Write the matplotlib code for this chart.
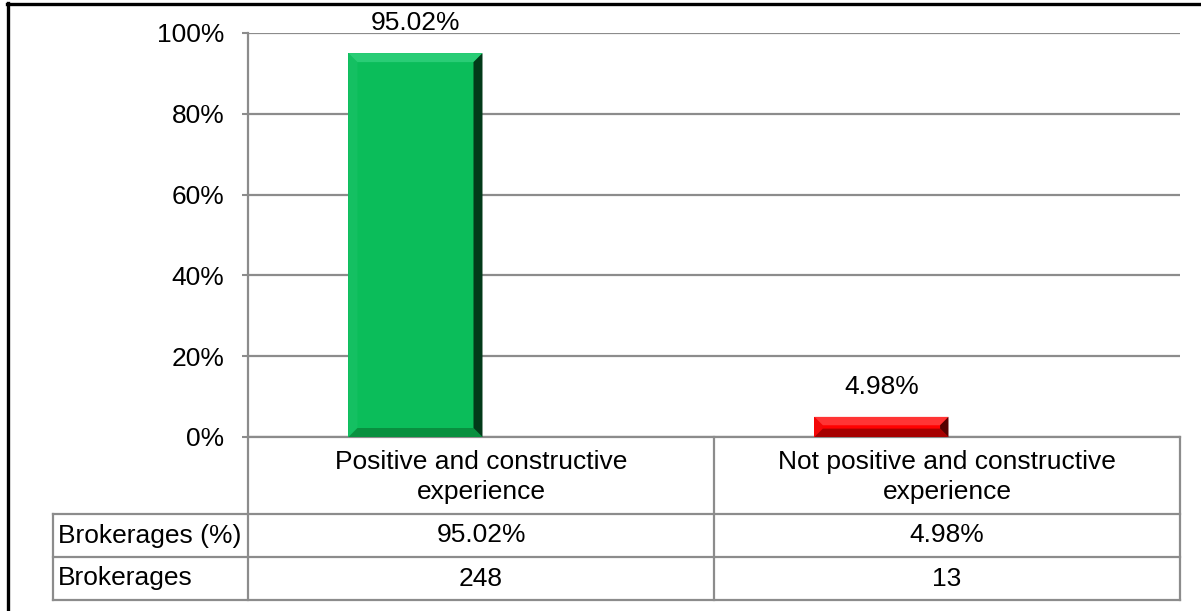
import matplotlib
matplotlib.use("Agg")
import matplotlib.pyplot as plt
from matplotlib.patches import Polygon
from matplotlib.lines import Line2D
from matplotlib.transforms import blended_transform_factory

# ---- data ----
categories = ["Positive and constructive\nexperience",
              "Not positive and constructive\nexperience"]
shares = [95.02, 4.98]          # percent of brokerages
counts = [248, 13]              # number of brokerages
row_labels = ["Brokerages (%)", "Brokerages"]
yticks = [0, 20, 40, 60, 80, 100]

plt.rcParams['font.family'] = ['Liberation Sans', 'DejaVu Sans']
FS = 19.0
GRID = "#8c8c8c"

W, H = 1201, 611
fig = plt.figure(figsize=(W / 100, H / 100), dpi=100)
fig.patch.set_facecolor("white")

# plot area in pixel terms
PX0, PX1, PY0, PY1 = 248, 1180, 33, 437
ax = fig.add_axes([PX0 / W, 1 - PY1 / H, (PX1 - PX0) / W, (PY1 - PY0) / H])
ax.set_xlim(-0.5, len(categories) - 0.5)
ax.set_ylim(0, 100)

# bars (shifted left within each category, as with an empty second series)
offset, width = -0.1406, 0.2876
styles = [
    dict(face="#0bbd5a", top="#2acd76", left="#14c062", right="#023a19", bottom="#08903f"),
    dict(face="#ff0000", top="#ff3434", left="#f20808", right="#560000", bottom="#a60000"),
]
xs = [i + offset for i in range(len(shares))]
bars = ax.bar(xs, shares, width=width, color=[s["face"] for s in styles],
              zorder=3, linewidth=0)

# bevelled edges on each bar
px_x = (ax.get_xlim()[1] - ax.get_xlim()[0]) / (PX1 - PX0)
px_y = (ax.get_ylim()[1] - ax.get_ylim()[0]) / (PY1 - PY0)
for bar, st in zip(bars, styles):
    x0, y0 = bar.get_x(), bar.get_y()
    x1, y1 = x0 + bar.get_width(), y0 + bar.get_height()
    hpx = bar.get_height() / px_y
    b = min(9.0, hpx / 2.4)
    bx, by = b * px_x, b * px_y
    polys = {
        "left": [(x0, y0), (x0, y1), (x0 + bx, y1 - by), (x0 + bx, y0 + by)],
        "bottom": [(x0, y0), (x1, y0), (x1 - bx, y0 + by), (x0 + bx, y0 + by)],
        "top": [(x0, y1), (x1, y1), (x1 - bx, y1 - by), (x0 + bx, y1 - by)],
        "right": [(x1, y0), (x1, y1), (x1 - bx, y1 - by), (x1 - bx, y0 + by)],
    }
    for k in ["left", "bottom", "top", "right"]:
        ax.add_patch(Polygon(polys[k], closed=True, facecolor=st[k],
                             edgecolor="none", zorder=4))
    ax.annotate(f"{bar.get_height():.2f}%", (x0 + bar.get_width() / 2, y1),
                xytext=(0, 21.5), textcoords="offset points",
                ha="center", va="center", fontsize=FS, zorder=5)

# axes styling
for sp in ax.spines.values():
    sp.set_visible(False)
ax.set_yticks(yticks)
ax.set_yticklabels([f"{v}%" for v in yticks], fontsize=FS)
ax.tick_params(axis="y", length=4, width=1.5, color=GRID, pad=13)
ax.set_xticks([])
ax.yaxis.grid(True, color=GRID, linewidth=1.6, zorder=0)
ax.set_axisbelow(True)

# data table beneath the plot
tr = blended_transform_factory(ax.transData, ax.transAxes)
def ay(py):
    return (PY1 - py) / (PY1 - PY0)

y_cat_bot, y_r1_bot, y_r2_bot = ay(514), ay(557), ay(600)
x_left_ax = (53 - PX0) / (PX1 - PX0)
tr_ax = ax.transAxes

def hline(y, xa=x_left_ax, xb=1.0):
    ax.add_line(Line2D([xa, xb], [y, y], transform=tr_ax, color=GRID,
                       linewidth=1.6, clip_on=False))

def vline(x, ya, yb, trans=tr_ax):
    ax.add_line(Line2D([x, x], [ya, yb], transform=trans, color=GRID,
                       linewidth=1.6, clip_on=False))

hline(0.0, 0.0, 1.0)
hline(y_cat_bot)
hline(y_r1_bot)
hline(y_r2_bot)
vline(0.0, 1.0, y_r2_bot)
vline(1.0, 0.0, y_r2_bot)
vline(x_left_ax, y_cat_bot, y_r2_bot)
for k in range(1, len(categories)):
    vline(k - 0.5, 0.0, y_r2_bot, trans=tr)

for i, cat in enumerate(categories):
    ax.text(i, ay(477), cat, transform=tr, ha="center",
            va="center", fontsize=FS, linespacing=1.3, clip_on=False)
    ax.text(i, (y_cat_bot + y_r1_bot) / 2, f"{shares[i]:.2f}%", transform=tr,
            ha="center", va="center", fontsize=FS, clip_on=False)
    ax.text(i, (y_r1_bot + y_r2_bot) / 2, f"{counts[i]}", transform=tr,
            ha="center", va="center", fontsize=FS, clip_on=False)

row_mids = [(y_cat_bot + y_r1_bot) / 2, (y_r1_bot + y_r2_bot) / 2]
for lab, ym in zip(row_labels, row_mids):
    ax.text((58 - PX0) / (PX1 - PX0), ym, lab, transform=tr_ax, ha="left",
            va="center", fontsize=FS, clip_on=False)

# black frame on the top and left edges
fig.add_artist(Line2D([7 / W, 1.0], [1 - 4 / H, 1 - 4 / H], transform=fig.transFigure,
                      color="black", linewidth=2.4))
fig.add_artist(Line2D([8 / W, 8 / W], [0.0, 1 - 3 / H], transform=fig.transFigure,
                      color="black", linewidth=2.4))

fig.savefig("out.png", dpi=100, facecolor="white")
